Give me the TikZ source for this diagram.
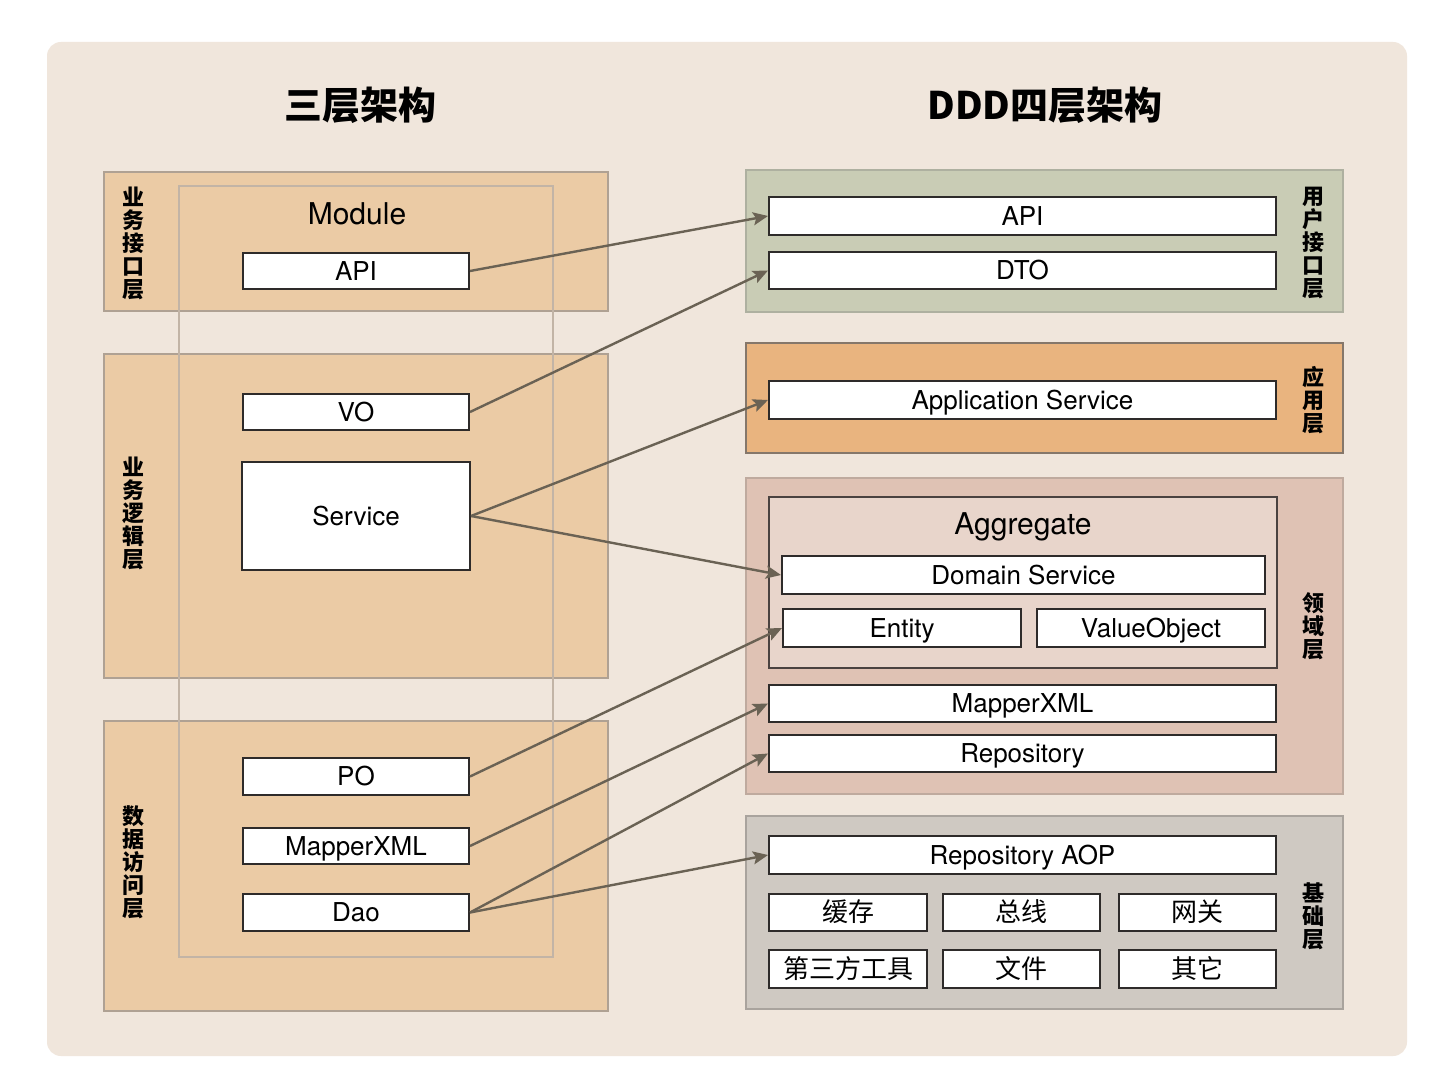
\documentclass[tikz,border=0pt]{standalone}
\usepackage{fontspec}
\setmainfont{TeX Gyre Heros}
\newfontfamily\cjk{Noto Sans CJK SC}
\usetikzlibrary{arrows.meta}
\definecolor{bgc}{HTML}{F0E6DC}
\definecolor{lfill}{HTML}{EBCBA5}
\definecolor{lline}{HTML}{AFA193}
\definecolor{modline}{HTML}{C2B4A6}
\definecolor{ufill}{HTML}{C9CCB5}
\definecolor{uline}{HTML}{AEB0A0}
\definecolor{afill}{HTML}{E9B47F}
\definecolor{aline}{HTML}{85776A}
\definecolor{dfill}{HTML}{DFC2B4}
\definecolor{dline}{HTML}{BFAA9E}
\definecolor{gfill}{HTML}{E8D5CB}
\definecolor{gline}{HTML}{4A4240}
\definecolor{ifill}{HTML}{CFC9C2}
\definecolor{iline}{HTML}{A9A39D}
\definecolor{boxline}{HTML}{2E2B2A}
\definecolor{arrc}{HTML}{6A6254}
% box from corner (x1,y1) to (x2,y2) in pixel units
\newcommand\bx[7][wbox]{%
  \pgfmathsetmacro\bxcx{(#3+#5)/2}\pgfmathsetmacro\bxcy{(#4+#6)/2}%
  \pgfmathsetmacro\bxw{(#5-#3)*0.5}\pgfmathsetmacro\bxh{(#6-#4)*0.5}%
  \node[#1, minimum width=\bxw pt, minimum height=\bxh pt] (#2) at (\bxcx,\bxcy) {#7};}
\begin{document}
\begin{tikzpicture}[x=0.5pt,y=-0.5pt,
  layer/.style={line width=1pt, inner sep=0pt},
  wbox/.style={draw=boxline, fill=white, line width=1pt, inner sep=0pt,
    font=\fontsize{13}{15}\selectfont, text height=9.3pt, text depth=0pt},
  cbox/.style={wbox, font=\cjk\fontsize{13}{15}\selectfont},
  vlabel/.style={align=center, inner sep=0pt, font=\cjk\bfseries\fontsize{11}{11.5}\selectfont},
  ttl/.style={inner sep=0pt, font=\cjk\bfseries\fontsize{19}{22}\selectfont},
  big/.style={inner sep=0pt, font=\fontsize{15}{18}\selectfont},
  arr/.style={draw=arrc, line width=1.2pt, -{Stealth[length=7.5pt,width=6.5pt,inset=1.5pt]}}
]
\useasboundingbox (0,0) rectangle (1438,1080);
\fill[white] (0,0) rectangle (1438,1080);
\fill[bgc, rounded corners=7pt] (47,42) rectangle (1407,1056);

% titles
\node[ttl] (t1) at (360,105) {三层架构};
\node[ttl] (t2) at (1045,105) {DDD四层架构};

% left layers
\bx[layer, draw=lline, fill=lfill]{L1}{104}{172}{608}{311}{}
\bx[layer, draw=lline, fill=lfill]{L2}{104}{354}{608}{678}{}
\bx[layer, draw=lline, fill=lfill]{L3}{104}{721}{608}{1011}{}
\bx[layer, draw=modline, line width=0.8pt]{module}{179}{186}{553}{957}{}
\node[big] (modtxt) at (357,214) {Module};

\node[vlabel] (v1) at (133,243) {业\\务\\接\\口\\层};
\node[vlabel] (v2) at (133,513) {业\\务\\逻\\辑\\层};
\node[vlabel] (v3) at (133,862) {数\\据\\访\\问\\层};

\bx{lapi}{243}{253}{469}{289}{API}
\bx{vo}{243}{394}{469}{430}{VO}
\bx{service}{242}{462}{470}{570}{Service}
\bx{po}{243}{758}{469}{795}{PO}
\bx{lmapper}{243}{828}{469}{864}{MapperXML}
\bx{dao}{243}{894}{469}{931}{Dao}

% right layers
\bx[layer, draw=uline, fill=ufill]{R1}{746}{170}{1343}{312}{}
\bx[layer, draw=aline, fill=afill]{R2}{746}{343}{1343}{453}{}
\bx[layer, draw=dline, fill=dfill]{R3}{746}{478}{1343}{794}{}
\bx[layer, draw=iline, fill=ifill]{R4}{746}{816}{1343}{1009}{}

\node[vlabel] (w1) at (1313,243) {用\\户\\接\\口\\层};
\node[vlabel] (w2) at (1313,400) {应\\用\\层};
\node[vlabel] (w3) at (1313,626) {领\\域\\层};
\node[vlabel] (w4) at (1313,916) {基\\础\\层};

\bx{rapi}{769}{197}{1276}{235}{API}
\bx{dto}{769}{252}{1276}{289}{DTO}
\bx{appsvc}{769}{381}{1276}{419}{Application Service}

\bx[layer, draw=gline, fill=gfill]{agg}{769}{497}{1277}{668}{}
\node[big] (aggtxt) at (1023,527) {Aggregate};
\bx{domsvc}{782}{556}{1265}{594}{Domain Service}
\bx{entity}{783}{609}{1021}{647}{Entity}
\bx{vobj}{1037}{609}{1265}{647}{ValueObject}
\bx{rmapper}{769}{685}{1276}{722}{MapperXML}
\bx{repo}{769}{735}{1276}{772}{Repository}

\bx{repoaop}{769}{836}{1276}{874}{Repository AOP}
\bx[cbox]{cache}{769}{894}{927}{931}{缓存}
\bx[cbox]{bus}{943}{894}{1100}{931}{总线}
\bx[cbox]{gateway}{1119}{894}{1276}{931}{网关}
\bx[cbox]{tools}{769}{950}{927}{988}{第三方工具}
\bx[cbox]{file}{943}{950}{1100}{988}{文件}
\bx[cbox]{other}{1119}{950}{1276}{988}{其它}

% connectors
\draw[arr] (lapi.east) -- (rapi.west);
\draw[arr] (vo.east) -- (dto.west);
\draw[arr] (service.east) -- (appsvc.west);
\draw[arr] (service.east) -- (domsvc.west);
\draw[arr] (po.east) -- (entity.west);
\draw[arr] (lmapper.east) -- (rmapper.west);
\draw[arr] (dao.east) -- (repo.west);
\draw[arr] (dao.east) -- (repoaop.west);
\end{tikzpicture}
\end{document}
